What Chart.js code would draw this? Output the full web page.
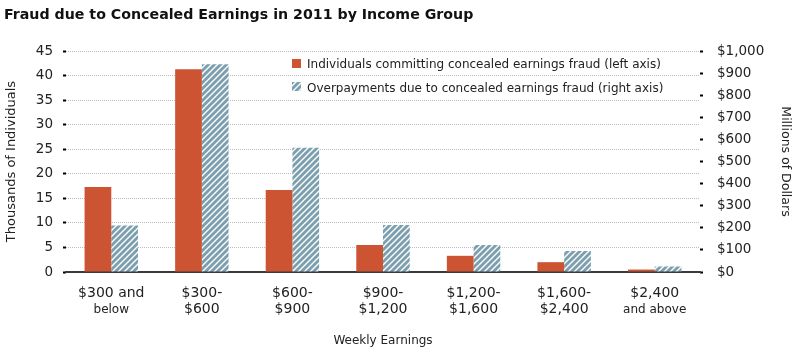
<!DOCTYPE html>
<html><head><meta charset="utf-8">
<script src="https://cdn.jsdelivr.net/npm/chart.js@4/dist/chart.umd.min.js"></script>
<style>html,body{margin:0;padding:0;background:#fff}</style>
</head><body>
<canvas id="c" width="800" height="353"></canvas>
<script>
const titleText = "Fraud due to Concealed Earnings in 2011 by Income Group";
const categories = [["$300 and","below"],["$300-","$600"],["$600-","$900"],["$900-","$1,200"],["$1,200-","$1,600"],["$1,600-","$2,400"],["$2,400","and above"]];
const individualsThousands = [17.3, 41.3, 16.7, 5.5, 3.3, 2.0, 0.5];
const overpaymentsMillions = [210, 940, 562, 213, 122, 95, 25];
const seriesNames = ["Individuals committing concealed earnings fraud (left axis)", "Overpayments due to concealed earnings fraud (right axis)"];
const leftAxisTitle = "Thousands of Individuals";
const rightAxisTitle = "Millions of Dollars";
const xAxisTitle = "Weekly Earnings";
const leftTickStep = 5, leftMax = 45;
const rightTickStep = 100, rightMax = 1000;

const FONT = "'DejaVu Sans', sans-serif";
const RED = '#cc5433';
const BLUE = '#7b9fae';

const canvas = document.getElementById('c');
const ctx0 = canvas.getContext('2d');
function makeHatch(){
  const t = document.createElement('canvas');
  t.width = 6; t.height = 6;
  const g = t.getContext('2d');
  g.fillStyle = BLUE; g.fillRect(0,0,6,6);
  g.strokeStyle = '#ffffff'; g.lineWidth = 1.4;
  g.beginPath();
  g.moveTo(-1,7); g.lineTo(7,-1);
  g.moveTo(-4,4); g.lineTo(4,-4);
  g.moveTo(2,10); g.lineTo(10,2);
  g.stroke();
  return ctx0.createPattern(t,'repeat');
}
const hatch = makeHatch();

const customDraw = {
  id:'customDraw',
  afterDraw(chart){
    const ctx = chart.ctx;
    ctx.save();
    ctx.fillStyle = '#111';
    ctx.font = "bold 14.2px 'DejaVu Sans', sans-serif";
    ctx.textAlign = 'left'; ctx.textBaseline = 'alphabetic';
    ctx.fillText(titleText, 4, 19);
    ctx.font = "12px " + FONT;
    ctx.fillStyle = RED; ctx.fillRect(292, 59, 9, 9);
    ctx.fillStyle = hatch; ctx.fillRect(292, 82, 9, 9);
    ctx.fillStyle = '#222';
    ctx.fillText(seriesNames[0], 307, 68);
    ctx.fillText(seriesNames[1], 307, 91.5);
    const xs = chart.scales.x;
    ctx.textAlign = 'center';
    categories.forEach((lines, i) => {
      const x = xs.getPixelForValue(i);
      lines.forEach((ln, j) => {
        const small = (j === 1 && (i === 0 || i === categories.length - 1));
        ctx.font = (small ? "12px " : "14px ") + FONT;
        ctx.fillText(ln, x, j === 0 ? 297 : 313);
      });
    });
    ctx.restore();
  }
};

new Chart(canvas, {
  type:'bar',
  data:{
    labels: categories.map(c => c.join(' ')),
    datasets:[
      {label: seriesNames[0], data: individualsThousands, backgroundColor: RED, yAxisID:'y', categoryPercentage:0.59, barPercentage:1.0},
      {label: seriesNames[1], data: overpaymentsMillions, backgroundColor: hatch, yAxisID:'y2', categoryPercentage:0.59, barPercentage:1.0}
    ]
  },
  options:{
    responsive:false, animation:false, devicePixelRatio:1,
    layout:{padding:{left:0,right:0,top:51,bottom:0}},
    plugins:{legend:{display:false}, title:{display:false}, tooltip:{enabled:false}},
    scales:{
      x:{
        offset:true,
        grid:{display:false},
        border:{display:true, color:'#3a3a3a', width:2},
        ticks:{display:false},
        title:{display:true, text:xAxisTitle, color:'#222', font:{family:FONT, size:12}, padding:{top:0,bottom:5}},
        afterFit(s){ s.height = 81; }
      },
      y:{
        position:'left', min:0, max:leftMax,
        ticks:{stepSize:leftTickStep, color:'#222', font:{family:FONT, size:13.5}, padding:10},
        grid:{
          display:true, drawOnChartArea:true,
          color:'#bdbdbd', lineWidth:1,
          tickColor:'#000', tickLength:3, tickWidth:2
        },
        border:{display:false, dash:[1,1]},
        title:{display:true, text:leftAxisTitle, color:'#222', font:{family:FONT, size:13}, padding:{top:4,bottom:0}},
        afterFit(s){ s.width = 66; }
      },
      y2:{
        position:'right', min:0, max:rightMax,
        ticks:{stepSize:rightTickStep, color:'#222', font:{family:FONT, size:13.5}, padding:14,
          callback: v => '$' + Number(v).toLocaleString('en-US')},
        grid:{drawOnChartArea:false, tickColor:'#000', tickLength:3, tickWidth:2},
        border:{display:false},
        title:{display:true, text:rightAxisTitle, color:'#222', font:{family:FONT, size:12.5}, padding:{top:7,bottom:0}},
        afterFit(s){ s.width = 100; }
      }
    }
  },
  plugins:[customDraw]
});
</script>
</body></html>
